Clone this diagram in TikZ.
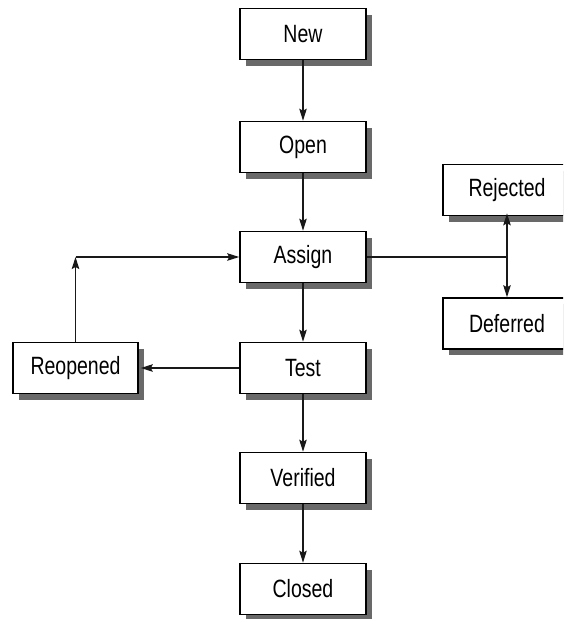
\documentclass[tikz,border=0pt]{standalone}
\usepackage{fontspec}
\newfontfamily\labfont{Liberation Sans}[FakeStretch=0.78]
\usetikzlibrary{shadows,arrows.meta}
\definecolor{shadowgray}{RGB}{105,105,105}
\tikzset{
  box/.style={draw=black, fill=white, line width=1.6pt, minimum width=126pt, minimum height=51pt,
    inner sep=0pt, font=\labfont\fontsize{25}{28}\selectfont,
    drop shadow={shadow xshift=6pt, shadow yshift=-6pt, fill=shadowgray, opacity=1}},
  sidebox/.style={box, minimum width=128pt},
  conn/.style={line width=1.4pt, draw=black!90},
  arr/.style={conn, -{Stealth[length=12pt,width=7.5pt,inset=2pt]}}
}
\begin{document}
\begin{tikzpicture}[x=1pt,y=-1pt]
\useasboundingbox (0,0) rectangle (563,619);
\clip (0,0) rectangle (563,619);
\fill[white] (0,0) rectangle (563,619);
\node[box] (new) at (303,34) {New};
\node[box] (open) at (303,147) {Open};
\node[box] (assign) at (303,257) {Assign};
\node[box] (test) at (303,368) {Test};
\node[box] (verified) at (303,478) {Verified};
\node[box] (closed) at (303,589) {Closed};
\node[box, minimum width=125pt] (reo) at (75.5,368) {Reopened};
\node[sidebox] (rej) at (507,190) {Rejected};
\node[sidebox] (def) at (507,323.5) {Deferred};
\coordinate (lc) at (reo.north |- assign.west);
\coordinate (rj) at (rej.south |- assign.east);
\draw[arr] (new) -- (open);
\draw[arr] (open) -- (assign);
\draw[arr] (assign) -- (test);
\draw[arr] (test) -- (verified);
\draw[arr] (verified) -- (closed);
\draw[arr, shorten >=2pt] (test.west) -- (reo.east);
\draw[arr] (reo.north) -- (lc);
\draw[arr] (lc) -- (assign.west);
\draw[conn] (assign.east) -- (rj);
\draw[arr, shorten >=-3pt] (rj) -- (rej.south);
\draw[arr] (rj) -- (def.north);
\end{tikzpicture}
\end{document}
